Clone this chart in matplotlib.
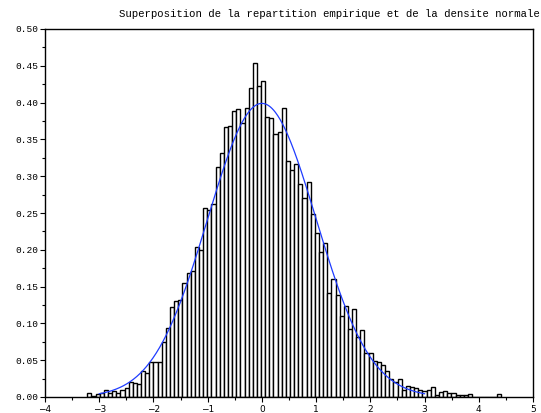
"""
Histogramme empirique (100 classes) et densite normale N(0,1) superposee.
"""
import matplotlib
matplotlib.use("Agg")
import matplotlib.pyplot as plt
import numpy as np

# histogram: 100 classes between the min and max of the sample
bin_lo = -3.22
bin_hi = 4.41
densities = [
  0.006, 0.001, 0.004, 0.006, 0.009, 0.005, 0.008, 0.006, 0.010, 0.012,
  0.021, 0.019, 0.018, 0.036, 0.032, 0.047, 0.048, 0.047, 0.075, 0.094,
  0.122, 0.130, 0.132, 0.155, 0.169, 0.171, 0.204, 0.200, 0.257, 0.254,
  0.262, 0.312, 0.332, 0.367, 0.368, 0.388, 0.391, 0.372, 0.393, 0.420,
  0.454, 0.422, 0.430, 0.380, 0.379, 0.358, 0.360, 0.393, 0.321, 0.309,
  0.317, 0.290, 0.271, 0.292, 0.249, 0.223, 0.197, 0.209, 0.141, 0.161,
  0.139, 0.110, 0.123, 0.093, 0.120, 0.081, 0.091, 0.060, 0.060, 0.049,
  0.047, 0.044, 0.035, 0.024, 0.020, 0.025, 0.010, 0.015, 0.014, 0.012,
  0.009, 0.008, 0.010, 0.013, 0.003, 0.007, 0.008, 0.006, 0.006, 0.003,
  0.003, 0.003, 0.004, 0.000, 0.000, 0.000, 0.000, 0.000, 0.000, 0.004,
]

# theoretical density
mu = 0.0
sigma = 1.0
curve_lo = -3.0
curve_hi = 3.0

title = "Superposition de la repartition empirique et de la densite normale"
x_ticks = [-4, -3, -2, -1, 0, 1, 2, 3, 4, 5]
y_ticks = [0.00, 0.05, 0.10, 0.15, 0.20, 0.25, 0.30, 0.35, 0.40, 0.45, 0.50]

mono = "Liberation Mono"

fig = plt.figure(figsize=(5.41, 4.13), dpi=100)
ax = fig.add_axes([45 / 541, 1 - 397 / 413, 488 / 541, 368 / 413])

edges = np.linspace(bin_lo, bin_hi, len(densities) + 1)
ax.bar(edges[:-1], densities, width=np.diff(edges), align="edge",
       facecolor="white", edgecolor="black", linewidth=1.0)

xs = np.linspace(curve_lo, curve_hi, 400)
pdf = np.exp(-0.5 * ((xs - mu) / sigma) ** 2) / (sigma * np.sqrt(2 * np.pi))
ax.plot(xs, pdf, color="#1f3cff", linewidth=0.9)

ax.set_xlim(x_ticks[0], x_ticks[-1])
ax.set_ylim(y_ticks[0], y_ticks[-1])
ax.set_xticks(x_ticks)
ax.set_xticks([t + 0.5 for t in x_ticks[:-1]], minor=True)
ax.set_yticks(y_ticks)
ax.set_yticks([t + 0.025 for t in y_ticks[:-1]], minor=True)
ax.set_yticklabels([f"{t:.2f}" for t in y_ticks], fontfamily=mono, fontsize=6.8)
ax.set_xticklabels([str(t).replace("-", "\u2212") for t in x_ticks],
                   fontfamily="DejaVu Sans", fontsize=6.5)
ax.tick_params(which="major", direction="out", length=3.6, width=0.8, pad=1)
ax.tick_params(axis="x", which="major", pad=2)
ax.tick_params(which="minor", direction="out", length=2.4, width=0.8)
for spine in ax.spines.values():
  spine.set_linewidth(1.0)

fig.text(540 / 541, 1 - 14 / 413, title, ha="right", va="center",
         fontfamily=mono, fontsize=7.7)

fig.savefig("out.png", dpi=100)
